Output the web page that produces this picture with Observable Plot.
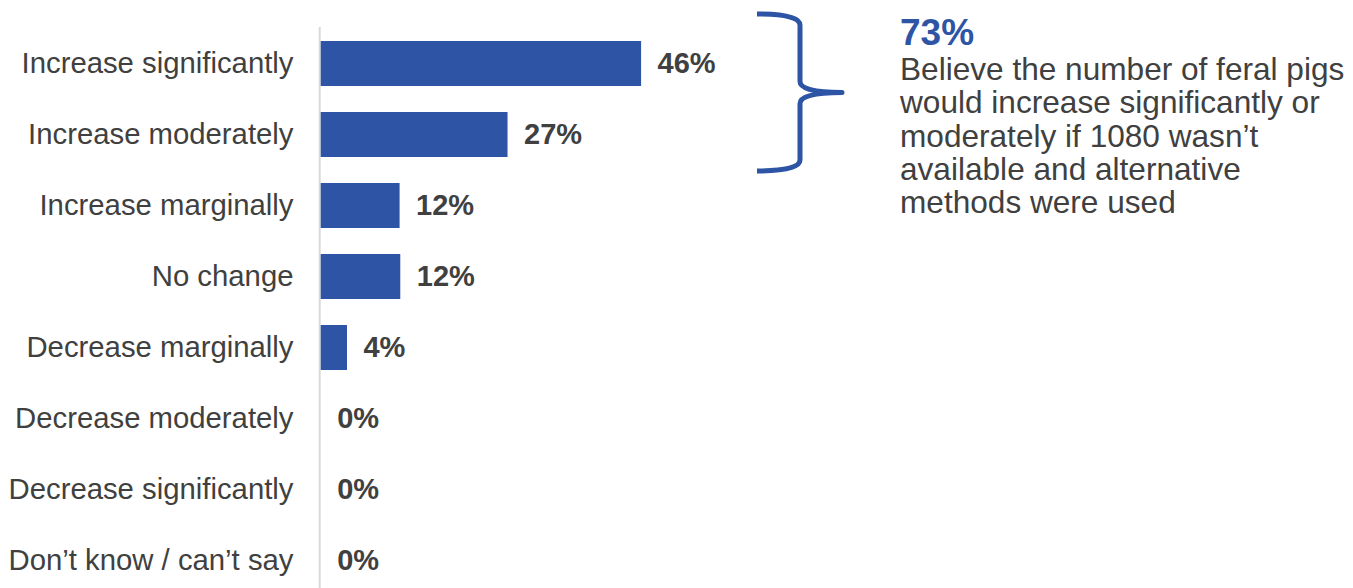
<!DOCTYPE html>
<html>
<head>
<meta charset="utf-8">
<script src="https://cdn.jsdelivr.net/npm/d3@7"></script>
<script src="https://cdn.jsdelivr.net/npm/@observablehq/plot@0.6"></script>
<style>
  html, body { margin: 0; padding: 0; background: #ffffff; }
  #chart { width: 1353px; height: 588px; overflow: hidden; }
</style>
</head>
<body>
<div id="chart"></div>
<script>
// ---- Data ----
const categories = [
  "Increase significantly",
  "Increase moderately",
  "Increase marginally",
  "No change",
  "Decrease marginally",
  "Decrease moderately",
  "Decrease significantly",
  "Don’t know / can’t say"
];
const values = [46.3, 27.0, 11.4, 11.5, 3.8, 0, 0, 0];
const valueLabels = ["46%", "27%", "12%", "12%", "4%", "0%", "0%", "0%"];
const bracedCategories = ["Increase significantly", "Increase moderately"];
const calloutValue = "73%";
const calloutLines = [
  "Believe the number of feral pigs",
  "would increase significantly or",
  "moderately if 1080 wasn’t",
  "available and alternative",
  "methods were used"
];

const BLUE = "#2E55A5";
const GRAY = "#404040";
const FONT = "'Liberation Sans', Arial, Helvetica, sans-serif";

const rows = categories.map((c, i) => ({category: c, value: values[i], label: valueLabels[i]}));

// Custom annotation mark: brace around the braced categories + callout text
function callout(index, scales) {
  const y = scales.y;
  const bw = typeof y.bandwidth === "function" ? y.bandwidth() : 0;
  const top = y(bracedCategories[0]) - 27;
  const bot = y(bracedCategories[bracedCategories.length - 1]) + bw + 14;
  const mid = (top + bot) / 2;
  const xL = 757, xS = 800, xT = 842, r = 11;
  const g = d3.create("svg:g").attr("text-anchor", "start");
  const path = [
    `M${xL},${top}`,
    `Q${xS},${top} ${xS},${top + r}`,
    `L${xS},${mid - r}`,
    `Q${xS},${mid} ${xT},${mid}`,
    `Q${xS},${mid} ${xS},${mid + r}`,
    `L${xS},${bot - r}`,
    `Q${xS},${bot} ${xL},${bot}`
  ].join(" ");
  g.append("path")
    .attr("d", path)
    .attr("fill", "none")
    .attr("stroke", BLUE)
    .attr("stroke-width", 5)
    .attr("stroke-linejoin", "round");
  g.append("text")
    .attr("x", 900).attr("y", 44.5)
    .attr("text-anchor", "start")
    .attr("font-family", FONT)
    .attr("font-size", 37)
    .attr("font-weight", "bold")
    .attr("fill", BLUE)
    .text(calloutValue);
  const t = g.append("text")
    .attr("text-anchor", "start")
    .attr("font-family", FONT)
    .attr("font-size", 31.6)
    .attr("fill", GRAY);
  calloutLines.forEach((line, i) => {
    t.append("tspan").attr("x", 900).attr("y", 80 + i * 33.3).text(line);
  });
  return g.node();
}

const chart = Plot.plot({
  width: 1353,
  height: 588,
  marginTop: 27,
  marginBottom: 0,
  marginLeft: 320,
  marginRight: 0,
  style: {fontFamily: FONT, fontSize: "29.3px", color: GRAY, background: "#ffffff"},
  x: {domain: [0, 100], range: [320.7, 1012.7], axis: null},
  y: {
    domain: categories,
    range: [27.25, 596],
    paddingInner: 0.37,
    paddingOuter: 0.185,
    label: null,
    tickSize: 0,
    tickPadding: 27
  },
  marks: [
    Plot.ruleX([0], {stroke: "#d9d9d9", strokeWidth: 2, dx: -1.5}),
    Plot.barX(rows, {x: "value", y: "category", fill: BLUE}),
    Plot.text(rows, {
      x: "value", y: "category", text: "label",
      textAnchor: "start", dx: 16,
      fontWeight: "bold", fontSize: 29, fill: GRAY
    }),
    callout
  ]
});

document.getElementById("chart").appendChild(chart);
</script>
</body>
</html>
